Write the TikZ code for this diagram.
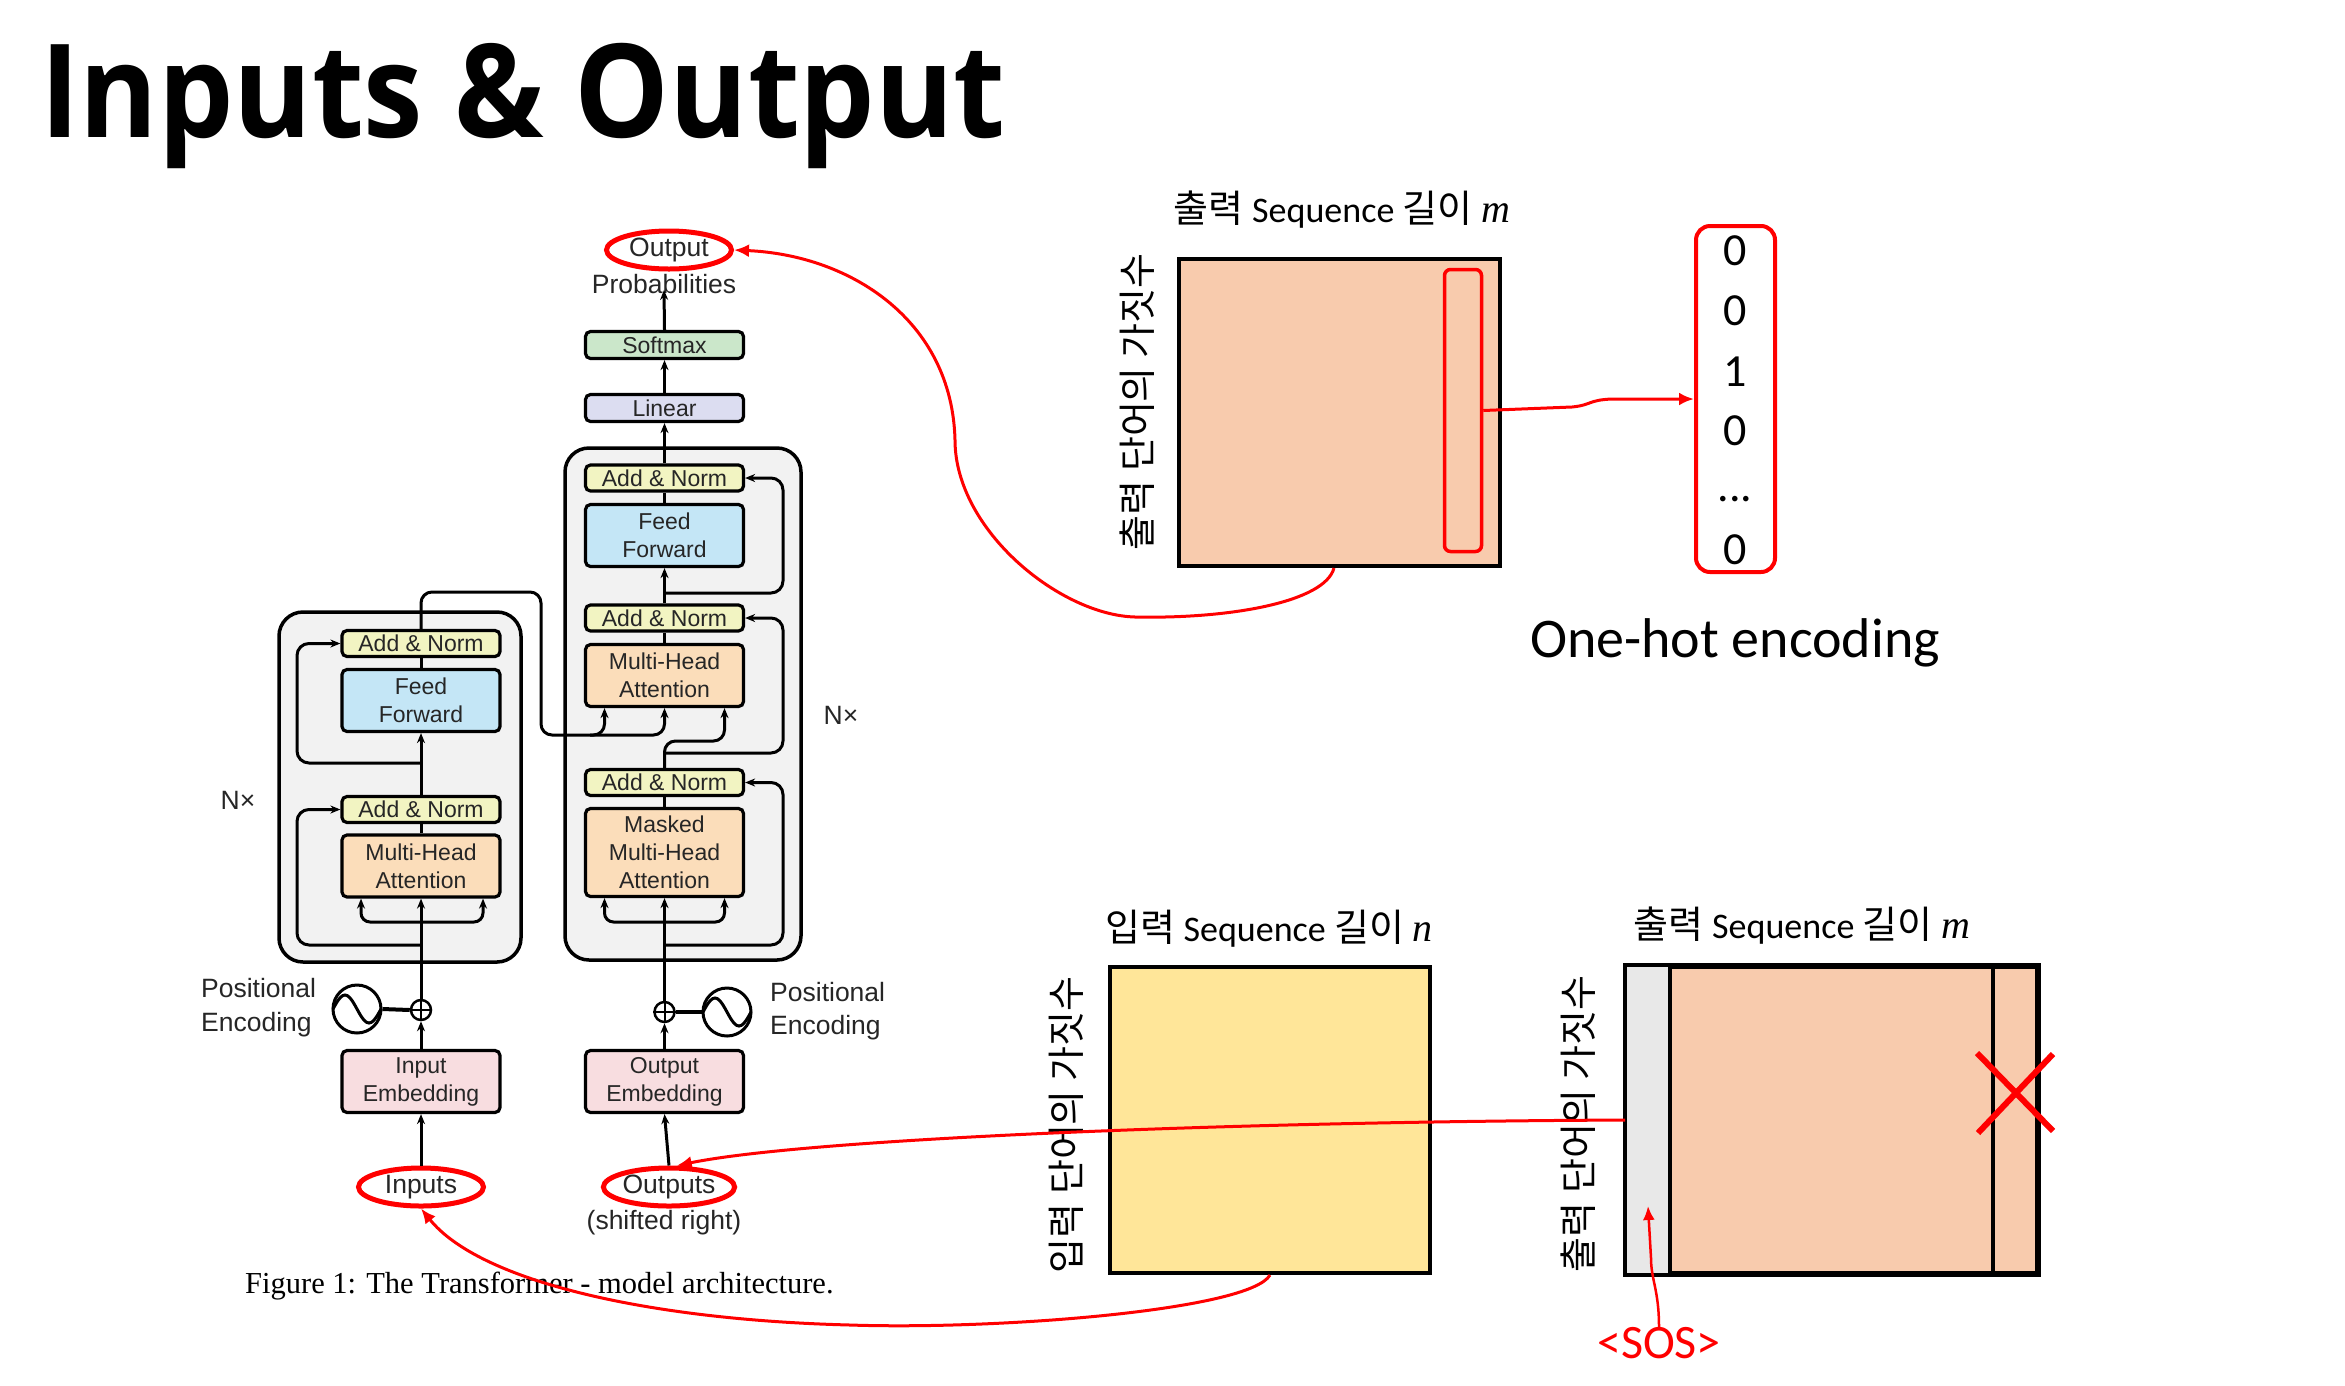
\documentclass[tikz,border=0pt]{standalone}
\usepackage{fontspec}
\usepackage{graphicx}
\usetikzlibrary{arrows.meta,calc,shapes.geometric}
\setmainfont{Liberation Sans}
\newfontfamily\krfont{Noto Sans CJK KR}
\newfontfamily\calfont{Carlito}
\newfontfamily\headfont{Open Sans}
\newfontfamily\capfont{Liberation Serif}
\newcommand{\archfont}{\fontsize{23}{28}\selectfont}
\newcommand{\sidefont}{\fontsize{26.5}{33}\selectfont}
\newcommand{\seqfont}{\fontsize{36}{42}\selectfont\calfont}
\newcommand{\mvar}[1]{{\capfont\itshape\fontsize{40}{40}\selectfont #1}}

\definecolor{anfill}{HTML}{F2F4C2}
\definecolor{fffill}{HTML}{C4E6F6}
\definecolor{mhafill}{HTML}{FBDDBA}
\definecolor{embfill}{HTML}{F8DDE0}
\definecolor{smfill}{HTML}{CBE7CA}
\definecolor{linfill}{HTML}{DCDDF1}
\definecolor{layerfill}{HTML}{F2F2F2}
\definecolor{peach}{HTML}{F8CBAD}
\definecolor{butter}{HTML}{FFE699}
\definecolor{strip}{HTML}{E8E8E8}
\definecolor{hot}{HTML}{FF0000}

\tikzset{
  blk/.style={draw=black, line width=3.2pt, rounded corners=5pt, minimum width=158pt,
    align=center, inner sep=0pt, font=\archfont, text=black!85},
  an/.style={blk, fill=anfill, minimum height=26pt},
  ff/.style={blk, fill=fffill, minimum height=62pt},
  mha/.style={blk, fill=mhafill, minimum height=62pt},
  emb/.style={blk, fill=embfill, minimum height=62pt},
  layer/.style={draw=black, line width=3.5pt, fill=layerfill, rounded corners=24pt},
  arr/.style={line width=3pt, -{Stealth[length=10pt,width=8pt]}},
  link/.style={line width=3pt},
  res/.style={arr, rounded corners=12pt},
  plain/.style={font=\sidefont, text=black!85, align=center, inner sep=0pt},
  ring/.style={ellipse, draw=hot, line width=5pt, minimum width=125pt, minimum height=38pt,
    inner sep=0pt, font=\sidefont, text=black!85},
  redarr/.style={hot, line width=3pt, -{Latex[length=15pt,width=13pt]}},
  mat/.style={draw=black, line width=4pt},
  kr/.style={font=\fontsize{38}{42}\selectfont\krfont, inner sep=0pt},
  digit/.style={font=\fontsize{46}{50}\selectfont\calfont, inner sep=0pt},
  wave/.style={circle, draw=black, line width=3pt, minimum size=48pt, inner sep=0pt},
  adder/.style={circle, draw=black, line width=2.5pt, minimum size=20pt, inner sep=0pt}
}

\begin{document}
\begin{tikzpicture}[x=1pt,y=-1pt]
\useasboundingbox (0,0) rectangle (2345,1385);
\fill[white] (0,0) rectangle (2345,1385);

% heading
\node[anchor=base west, inner sep=0pt] (title) at (40,137)
  {\scalebox{0.918}[1]{\headfont\bfseries\fontsize{130}{134}\selectfont Inputs \& Output}};

% ---------------- encoder / decoder layers ----------------
\draw[layer] (279,612) rectangle (521,962);
\draw[layer] (565,448) rectangle (801,960);

% encoder blocks
\node[an]  (encAN2) at (421,643.5) {Add \& Norm};
\node[ff]  (encFF)  at (421,700.5) {Feed\\Forward};
\node[an]  (encAN1) at (421,809.5) {Add \& Norm};
\node[mha] (encMHA) at (421,866)   {Multi-Head\\Attention};
\node[emb] (inEmb)  at (421,1081.5) {Input\\Embedding};
\node[adder] (encPlus) at (421,1010) {};
\node[wave]  (encSine) at (357,1009) {};
\node[plain, align=left, anchor=west, font=\fontsize{26.5}{34}\selectfont] (peL) at (201,1008) {Positional\\Encoding};
\node[ring] (inE) at (421,1187) {Inputs};
\node[plain] (nxL) at (238,800) {N×};

% decoder blocks
\node[ring] (outP) at (669,250) {Output};
\node[plain] (prob) at (664,284) {Probabilities};
\node[blk, fill=smfill, minimum height=27pt]  (soft) at (664.5,345) {Softmax};
\node[blk, fill=linfill, minimum height=27pt] (lin)  at (664.5,408) {Linear};
\node[an]  (decAN3) at (664.5,478)   {Add \& Norm};
\node[ff]  (decFF)  at (664.5,535.5) {Feed\\Forward};
\node[an]  (decAN2) at (664.5,618)   {Add \& Norm};
\node[mha] (decMHA) at (664.5,675.5) {Multi-Head\\Attention};
\node[an]  (decAN1) at (664.5,782.5) {Add \& Norm};
\node[mha, minimum height=88pt] (decMMHA) at (664.5,852.5) {Masked\\Multi-Head\\Attention};
\node[emb] (outEmb) at (664.5,1081.5) {Output\\Embedding};
\node[adder] (decPlus) at (664.5,1012) {};
\node[wave]  (decSine) at (727,1012) {};
\node[plain, align=left, anchor=west, font=\fontsize{26.5}{33}\selectfont] (peR) at (770,1011) {Positional\\Encoding};
\node[ring] (outE) at (669,1187) {Outputs};
\node[plain] (shift) at (664,1223) {(shifted right)};
\node[plain] (nxR) at (841,715) {N×};

% adders and wave icons
\foreach \p in {encPlus,decPlus}{
  \draw[line width=2pt] (\p.north) -- (\p.south);
  \draw[line width=2pt] (\p.west) -- (\p.east);
}
\draw[line width=3pt] plot[smooth, domain=-1:1, samples=21] ({357+24*\x},{1009-14*sin(180*(\x+1))});
\draw[line width=3pt] plot[smooth, domain=-1:1, samples=21] ({727+24*\x},{1012-14*sin(180*(\x+1))});
\draw[line width=4pt] (encSine.east) -- (encPlus.west);
\draw[line width=4pt] (decPlus.east) -- (decSine.west);

% encoder data flow
\draw[arr] (inE.north) -- (inEmb.south);
\draw[arr] (inEmb.north) -- (encPlus.south);
\draw[arr] (encPlus.north) -- (encMHA.south);
\draw[arr, rounded corners=9pt] (421,922) -| ($(encMHA.south)+(-60,0)$);
\draw[arr, rounded corners=9pt] (421,922) -| ($(encMHA.south)+(62,0)$);
\draw[link] (encMHA.north) -- (encAN1.south);
\draw[arr] (encAN1.north) -- (encFF.south);
\draw[link] (encFF.north) -- (encAN2.south);
\draw[res] (421,945) -| (297,809.5) -- (encAN1.west);
\draw[res] (421,763) -| (297,643.5) -- (encAN2.west);

% encoder output into the decoder attention
\draw[arr, rounded corners=11pt] (encAN2.north) |- (541,592) |- (604.5,735) -- ($(decMHA.south)+(-60,0)$);
\draw[arr, rounded corners=11pt] (590,735) -| (decMHA.south);

% decoder data flow
\draw[arr] (outE.north) -- (outEmb.south);
\draw[arr] (outEmb.north) -- (decPlus.south);
\draw[arr] (decPlus.north) -- (decMMHA.south);
\draw[arr, rounded corners=9pt] (664.5,922) -| ($(decMMHA.south)+(-60,0)$);
\draw[arr, rounded corners=9pt] (664.5,922) -| ($(decMMHA.south)+(60,0)$);
\draw[link] (decMMHA.north) -- (decAN1.south);
\draw[arr, rounded corners=11pt] (decAN1.north) |- (724.5,741) -- ($(decMHA.south)+(60,0)$);
\draw[link] (decMHA.north) -- (decAN2.south);
\draw[arr] (decAN2.north) -- (decFF.south);
\draw[link] (decFF.north) -- (decAN3.south);
\draw[arr] (decAN3.north) -- (lin.south);
\draw[arr] (lin.north) -- (soft.south);
\draw[arr] (soft.north) -- ($(prob.south)+(0,-4)$);
\draw[res] (664.5,945) -| (783,782.5) -- (decAN1.east);
\draw[res] (664.5,753) -| (783,618) -- (decAN2.east);
\draw[res] (664.5,593) -| (783,478) -- (decAN3.east);

% caption
\node[anchor=base west, inner sep=0pt, font=\capfont\fontsize{30.5}{34}\selectfont] (cap) at (245,1293)
  {Figure 1: The Transformer - model architecture.};

% ---------------- output matrix with one-hot column ----------------
\node[kr] (topLbl) at (1342,210) {출력 {\seqfont Sequence} 길이 \mvar{m}};
\node[mat, fill=peach, minimum width=321pt, minimum height=307pt] (topMat) at (1339.5,412.5) {};
\node[kr, rotate=90] (topSide) at (1137,402) {출력 단어의 가짓수};
\node[draw=hot, line width=3.5pt, rounded corners=6pt, minimum width=37pt, minimum height=282pt] (col) at (1463,410.5) {};
\node[draw=hot, line width=4pt, rounded corners=14pt, minimum width=79pt, minimum height=346pt] (vec) at (1735.5,399) {};
\node[digit] (v1) at (1735,251) {0};
\node[digit] (v2) at (1735,311) {0};
\node[digit] (v3) at (1735,372) {1};
\node[digit] (v4) at (1735,431) {0};
\node[digit] (v5) at (1735,499) {...};
\node[digit] (v6) at (1735,550) {0};
\node[inner sep=0pt, font=\fontsize{56}{60}\selectfont\calfont] (ohe) at (1735,643) {One-hot encoding};

% ---------------- input matrix ----------------
\node[kr] (inLbl) at (1269,929) {입력 {\seqfont Sequence} 길이 \mvar{n}};
\node[mat, fill=butter, minimum width=320pt, minimum height=306pt] (inMat) at (1270,1120) {};
\node[kr, rotate=90] (inSide) at (1066,1125) {입력 단어의 가짓수};

% ---------------- decoder input matrix ----------------
\node[kr] (outLbl) at (1802,926) {출력 {\seqfont Sequence} 길이 \mvar{m}};
\node[mat, fill=peach, minimum width=410pt, minimum height=306pt] (outMat) at (1832,1120) {};
\fill[strip] ($(outMat.north west)+(2,2)$) rectangle ($(outMat.south west)+(45,-2)$);
\draw[line width=4pt] ($(outMat.north west)+(45,0)$) -- ($(outMat.south west)+(45,0)$);
\draw[line width=4pt] ($(outMat.north east)+(-46,0)$) -- ($(outMat.south east)+(-46,0)$);
\draw[mat] (outMat.north west) rectangle (outMat.south east);
\node[kr, rotate=90] (outSide) at (1578,1124) {출력 단어의 가짓수};
\draw[hot, line width=6pt] (1977,1053) -- (2053,1131);
\draw[hot, line width=6pt] (2053,1054) -- (1978,1133);
\node[inner sep=0pt, text=hot, font=\fontsize{48}{52}\selectfont\calfont] (sos) at (1659,1343) {<SOS>};
\coordinate (sosTip) at (1648,1206);

% ---------------- red connectors ----------------
\draw[redarr] (col.east) -- (1572,407) .. controls (1592,405) and (1588,400) .. (1612,399) -- (vec.west);
\draw[redarr] ($(topMat.south west)!0.483!(topMat.south east)$)
  .. controls (1325,602) and (1230,619) .. (1135,617)
  .. controls (1060,615) and (955,530) .. (955,440)
  .. controls (952,320) and (850,255) .. (outP.east);
\draw[redarr] ($(inMat.south west)!0.5!(inMat.south east)$)
  .. controls (1250,1310) and (1000,1330) .. (850,1325)
  .. controls (650,1320) and (480,1282) .. (inE.south);
\draw[redarr] (outMat.west) .. controls (1200,1122) and (800,1140) .. (outE.70);
\draw[hot, line width=2.5pt, -{Latex[length=14pt,width=12pt]}] (sos.north)
  .. controls (1659,1290) and (1651,1280) .. (1651,1258) -- (sosTip);
\end{tikzpicture}
\end{document}
